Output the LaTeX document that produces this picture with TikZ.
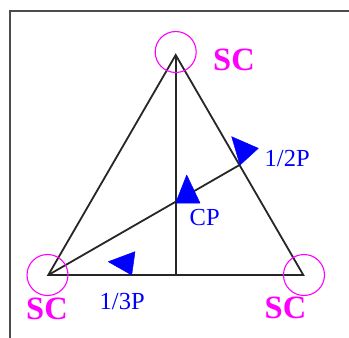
\documentclass[tikz,border=0pt]{standalone}
\usepackage{fontspec}
\setmainfont{Liberation Serif}
\usetikzlibrary{calc}
\definecolor{scpink}{RGB}{255,0,255}
\definecolor{pblue}{RGB}{0,0,255}
\begin{document}
\begin{tikzpicture}[x=1pt,y=-1pt,
  edge/.style={draw=black!85,line width=1.8pt},
  frameline/.style={draw=black!70,line width=2pt},
  scring/.style={draw=scpink,line width=1.1pt},
  sclabel/.style={anchor=base west,inner sep=0pt,text=scpink,font=\fontsize{32.5}{32.5}\selectfont\bfseries},
  plabel/.style={anchor=base west,inner sep=0pt,text=pblue,font=\fontsize{24.5}{24.5}\selectfont},
  dirmark/.style={fill=pblue,draw=pblue,line width=0.5pt,line join=round}]
\useasboundingbox (0,0) rectangle (349,338);
\fill[white] (0,0) rectangle (349,338);
\draw[frameline] (10,338) -- (10,10.5) -- (349,10.5);
% vertices
\coordinate (A) at (175.7,55);
\coordinate (B) at (48.3,275);
\coordinate (C) at (303.3,275);
\coordinate (F) at (175.7,275);
\coordinate (M) at ($(A)!0.5!(C)$);
\coordinate (P) at (175.7,201.5);
% triangle and lines
\draw[edge,line join=miter] (A) -- (B) -- (C) -- cycle;
\draw[edge] (A) -- (F);
\draw[edge] (B) -- (M);
% circles
\draw[scring] (175.7,52) circle (20.5);
\draw[scring] (47.5,275) circle (20.5);
\draw[scring] (304,275) circle (20.5);
% direction marks
\fill[dirmark] (231.7,136.7) -- (258.3,148.3) -- (240,165) -- cycle;
\fill[dirmark] (186.7,175) -- (175.7,203) -- (200,203) -- cycle;
\fill[dirmark] (108.3,261.7) -- (135,251.7) -- (131.7,275) -- cycle;
% labels
\node[sclabel] (sctop) at (213,70) {SC};
\node[sclabel] (scleft) at (26,319) {SC};
\node[sclabel] (scright) at (264.5,318) {SC};
\node[plabel] (half) at (264.5,166) {1/2P};
\node[plabel] (cp) at (189.5,225) {CP};
\node[plabel] (third) at (99.5,309.5) {1/3P};
\end{tikzpicture}
\end{document}
